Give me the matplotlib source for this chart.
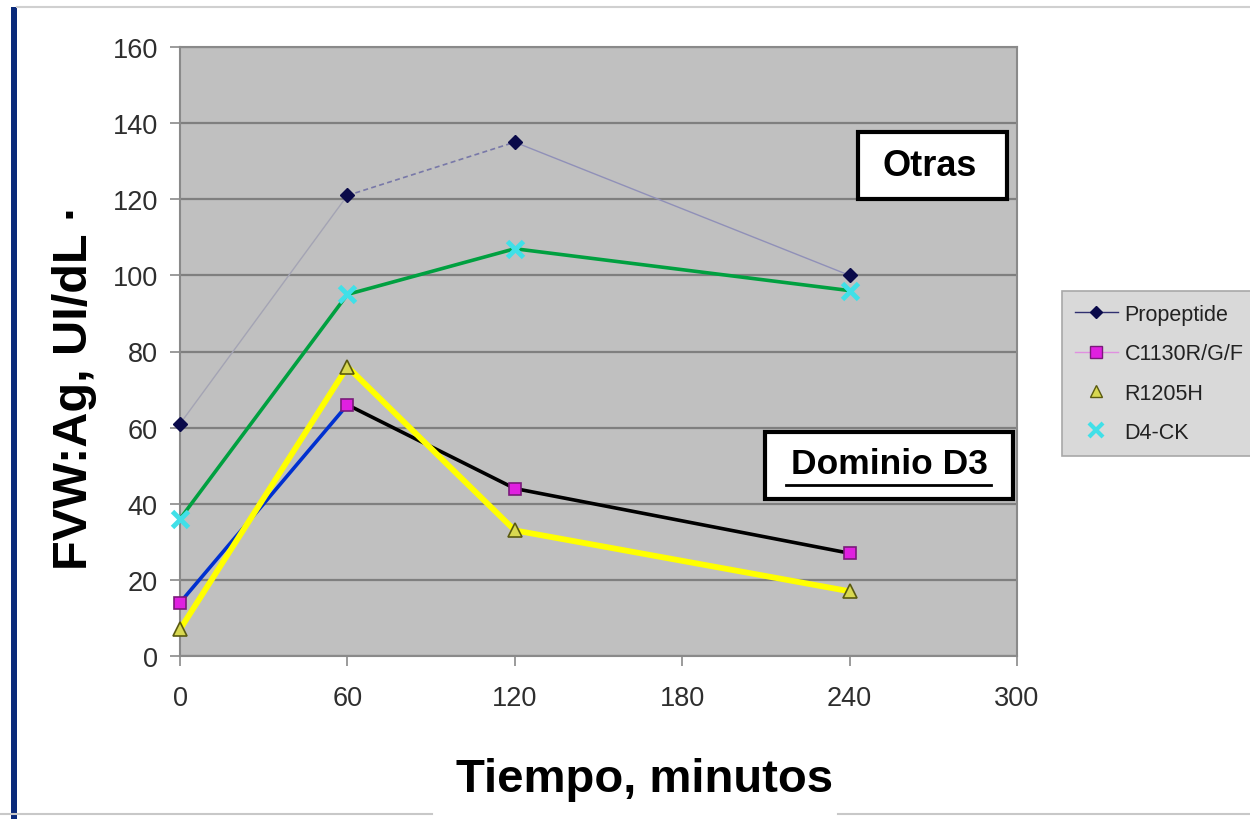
import matplotlib.pyplot as plt
import matplotlib.patches as patches
from matplotlib.lines import Line2D

plt.rcParams['font.family'] = ['Liberation Sans', 'DejaVu Sans']

# datos
tiempo = [0, 60, 120, 240]
propeptide = [61, 121, 135, 100]
c1130r = [14, 66, 44, 27]
r1205h = [7, 76, 33, 17]
d4ck = [36, 95, 107, 96]
nombres = ['Propeptide', 'C1130R/G/F', 'R1205H', 'D4-CK']
xticks = [0, 60, 120, 180, 240, 300]
yticks = [0, 20, 40, 60, 80, 100, 120, 140, 160]

W, H = 1250, 820


def fx(x):
    return x / W


def fy(y):
    return 1 - y / H


fig = plt.figure(figsize=(12.5, 8.2), dpi=100)
fig.patch.set_facecolor('white')
ax = fig.add_axes([fx(180), fy(657), fx(1017) - fx(180), fy(48) - fy(657)])
ax.set_facecolor('#C0C0C0')

ax.set_xlim(0, 300)
ax.set_ylim(0, 160)
ax.set_xticks(xticks)
ax.set_yticks(yticks)
ax.yaxis.grid(True, color='#7F7F7F', lw=1.6)
ax.set_axisbelow(True)
for s in ax.spines.values():
    s.set_color('#8A8A8A')
    s.set_linewidth(1.5)
ax.tick_params(axis='both', direction='out', length=7, width=1.2,
               color='#8A8A8A', labelsize=19.5, labelcolor='#2E2E2E')
ax.tick_params(axis='x', pad=14)
ax.tick_params(axis='y', pad=9)

# series originales (lineas finas de Excel)
ax.plot(tiempo[:2], propeptide[:2], color='#A4A4B4', lw=1, zorder=2)
ax.plot(tiempo[1:3], propeptide[1:3], color='#7878A8', lw=1.2, ls=(0, (3, 2)), zorder=2)
ax.plot(tiempo[2:], propeptide[2:], color='#9090B8', lw=1, zorder=2)
ax.plot(tiempo, c1130r, color='#E080E0', lw=1, zorder=2)
ax.plot(tiempo, r1205h, color='#E8E860', lw=1, zorder=2)
ax.plot(tiempo, d4ck, color='#60E0E0', lw=1, zorder=2)

# lineas dibujadas encima
ax.plot(tiempo, d4ck, color='#00A040', lw=2.6, zorder=3)
ax.plot(tiempo[:2], c1130r[:2], color='#0030D0', lw=2.6, zorder=3)
ax.plot(tiempo[1:], c1130r[1:], color='black', lw=2.6, zorder=3)
ax.plot(tiempo, r1205h, color='#FFFF00', lw=4.2, zorder=3)

# marcadores
ax.plot(tiempo, propeptide, ls='none', marker='D', ms=7, mfc='#0A0A4A',
        mec='#0A0A4A', zorder=5, clip_on=False)
ax.plot(tiempo, c1130r, ls='none', marker='s', ms=8.5, mfc='#E020E0',
        mec='#7A1A7A', mew=1.2, zorder=5, clip_on=False)
ax.plot(tiempo, r1205h, ls='none', marker='^', ms=9.5, mfc='#D8D850',
        mec='#5A5A10', mew=1.2, zorder=5, clip_on=False)
ax.plot(tiempo, d4ck, ls='none', marker='x', ms=11, mec='#40E0E8',
        mew=3.5, zorder=5, clip_on=False)

# leyenda
handles = [
    Line2D([], [], color='#303070', lw=1, marker='D', ms=6.5, mfc='#0A0A4A', mec='#0A0A4A'),
    Line2D([], [], color='#E090E0', lw=1, marker='s', ms=8, mfc='#E020E0', mec='#7A1A7A'),
    Line2D([], [], color='#D9D9D9', lw=1, marker='^', ms=9, mfc='#D8D850', mec='#5A5A10'),
    Line2D([], [], color='#D9D9D9', lw=1, marker='x', ms=10, mec='#40E0E8', mew=3),
]
leg = ax.legend(handles, nombres, loc='upper left',
                bbox_to_anchor=(fx(1062), fy(292)), bbox_transform=fig.transFigure,
                borderaxespad=0, fontsize=15.5, frameon=True, fancybox=False,
                framealpha=1, facecolor='#D9D9D9', edgecolor='#A8A8A8',
                handlelength=2.0, labelspacing=0.85, borderpad=0.6,
                handletextpad=0.3)
leg.get_frame().set_linewidth(1.2)
for t in leg.get_texts():
    t.set_color('#222222')

# cuadros de texto
fig.add_artist(patches.Rectangle((fx(858), fy(200)), fx(1007) - fx(858), fy(133) - fy(200),
                                 transform=fig.transFigure, fc='white', ec='black', lw=3))
fig.text(fx(930), fy(167), 'Otras', ha='center', va='center', fontsize=26,
         weight='bold')
fig.add_artist(patches.Rectangle((fx(765), fy(500)), fx(1013) - fx(765), fy(433) - fy(500),
                                 transform=fig.transFigure, fc='white', ec='black', lw=3))
fig.text(fx(889), fy(465), 'Dominio D3', ha='center', va='center', fontsize=25.5,
         weight='bold')
fig.add_artist(Line2D([fx(786), fx(991)], [fy(486), fy(486)], transform=fig.transFigure,
                      color='black', lw=2))

# titulos de ejes
fig.text(fx(75), fy(387), 'FVW:Ag, UI/dL \u00b7', rotation=90, ha='center', va='center',
         fontsize=35, weight='bold')
fig.text(fx(645), fy(780), 'Tiempo, minutos', ha='center', va='center', fontsize=34,
         weight='bold')

# marco de la diapositiva
fig.add_artist(patches.Rectangle((fx(11), 0), fx(6), fy(8), transform=fig.transFigure,
                                 fc='#0A2A7A', ec='none'))
fig.add_artist(Line2D([fx(17), 1], [fy(8), fy(8)], transform=fig.transFigure,
                      color='#D0D0D0', lw=1.5))
fig.add_artist(Line2D([0, fx(432)], [fy(815), fy(815)], transform=fig.transFigure,
                      color='#C8C8C8', lw=1.5))
fig.add_artist(Line2D([fx(838), 1], [fy(815), fy(815)], transform=fig.transFigure,
                      color='#C8C8C8', lw=1.5))

plt.savefig('out.png', dpi=100)
print("out.png generado")
